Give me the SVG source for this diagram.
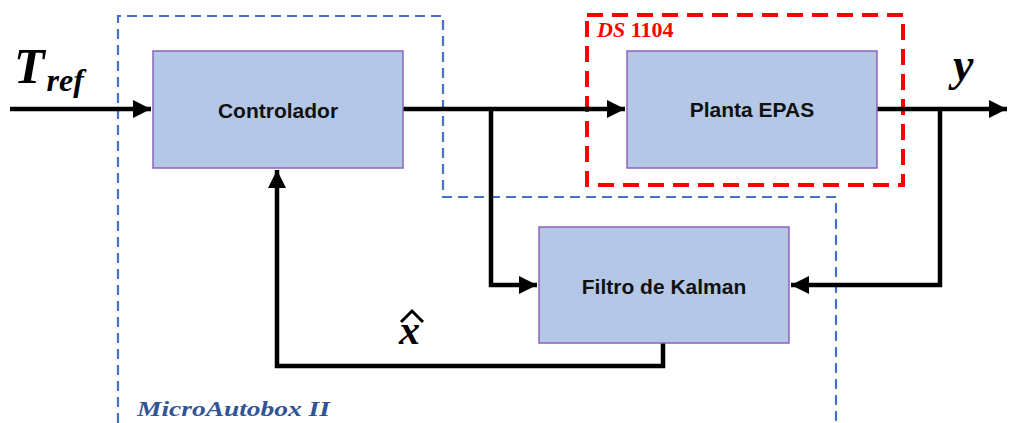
<svg xmlns="http://www.w3.org/2000/svg" width="1009" height="423" viewBox="0 0 1009 423">
<style>
.box{fill:#b4c7e7;stroke:#8a64b8;stroke-width:1.5}
.lbl{font-family:"Liberation Sans",Arial,sans-serif;font-weight:bold;font-size:21px;fill:#111;text-anchor:middle;dominant-baseline:central}
.wire{fill:none;stroke:#000;stroke-width:4.5}
.math{font-family:"Liberation Serif","DejaVu Serif",serif;font-weight:bold;font-style:italic}
</style>
<defs>
<marker id="ah" viewBox="0 0 10 10" refX="10" refY="5" markerWidth="4.4" markerHeight="4" markerUnits="strokeWidth" orient="auto">
<path d="M0,0 L10,5 L0,10 Z" fill="#000"/>
</marker>
</defs>
<rect width="1009" height="423" fill="#fff"/>
<g id="regions">
<path d="M118,423 V16 H443 V197 H836 V423" fill="none" stroke="#4472c4" stroke-width="2.2" stroke-dasharray="10,6"/>
<rect x="587" y="15" width="316" height="170" fill="none" stroke="#ff0000" stroke-width="4" stroke-dasharray="16,9"/>
</g>
<g id="connectors">
<path class="wire" d="M10,109 H151" marker-end="url(#ah)"/>
<path class="wire" d="M403,109 H625" marker-end="url(#ah)"/>
<path class="wire" d="M491,109 V285 H537" marker-end="url(#ah)"/>
<path class="wire" d="M877,109 H1007" marker-end="url(#ah)"/>
<path class="wire" d="M940,109 V285 H791" marker-end="url(#ah)"/>
<path class="wire" d="M663,343 V366 H277 V170" marker-end="url(#ah)"/>
</g>
<g id="controlador">
<rect class="box" x="153" y="51" width="250" height="117"/>
<text class="lbl" x="278" y="110">Controlador</text>
</g>
<g id="planta">
<rect class="box" x="627" y="51" width="250" height="117"/>
<text class="lbl" x="752" y="109">Planta EPAS</text>
</g>
<g id="kalman">
<rect class="box" x="539" y="227" width="250" height="116"/>
<text class="lbl" x="664" y="286">Filtro de Kalman</text>
</g>
<g id="labels">
<text class="math" x="14" y="83" font-size="50">T<tspan font-size="32" dy="8" dx="2">ref</tspan></text>
<text class="math" x="953" y="80" font-size="46">y</text>
<text class="math" x="399" y="344" font-size="42">x</text>
<path d="M401,322 L412,311 L423,322" fill="none" stroke="#000" stroke-width="3"/>
<text class="math" x="597" y="37" font-size="22" fill="#ff0000">DS <tspan font-style="normal">1104</tspan></text>
<text class="math" x="137" y="416" font-size="22" fill="#2f5597" textLength="193" lengthAdjust="spacingAndGlyphs">MicroAutobox II</text>
</g>
</svg>
